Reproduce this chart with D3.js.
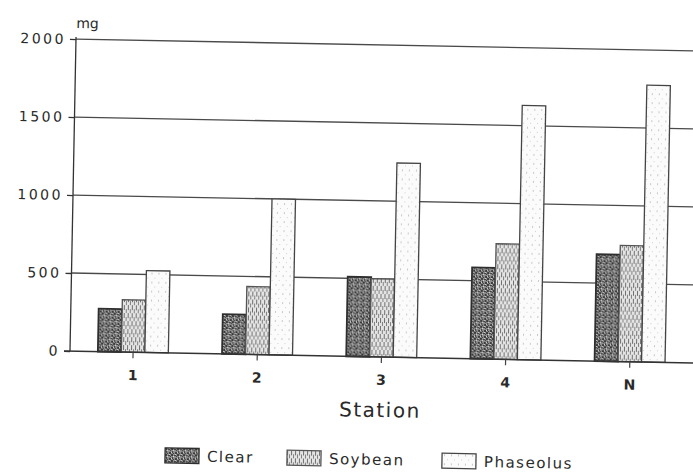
<!DOCTYPE html>
<html lang="en">
<head>
    <meta charset="UTF-8">
    <title>Station</title>
    <style>
        body,html{
            margin:0;
            padding:0;
            border:0;
            background:#fff;
        }
        text{
            font-family:"DejaVu Sans", Arial, sans-serif;
            fill:#2a2a2a;
        }
    </style>
</head>
<body>
    <svg id="svg" width="693" height="473"></svg>
    <script type="text/javascript" src="https://cdnjs.cloudflare.com/ajax/libs/d3/7.8.5/d3.min.js"></script>
    <script type="text/javascript">
        // values (mg)
        var stations = ["1", "2", "3", "4", "N"];
        var series = ["Clear", "Soybean", "Phaseolus"];
        var clear = [275, 255, 510, 585, 685];
        var soybean = [335, 435, 500, 740, 745];
        var phaseolus = [525, 1000, 1245, 1630, 1775];
        var yTicks = [0, 500, 1000, 1500, 2000];

        var values = {Clear: clear, Soybean: soybean, Phaseolus: phaseolus};

        var svg = d3.select("#svg");
        var defs = svg.append("defs");

        // speckled fills, roughly like the photocopy
        var pClear = defs.append("pattern").attr("id", "pClear")
            .attr("patternUnits", "userSpaceOnUse").attr("width", 6).attr("height", 6);
        pClear.append("rect").attr("width", 6).attr("height", 6).attr("fill", "#8e8e8e");
        [[0,0,2,2],[3,1,2,1],[1,3,1,2],[4,4,2,2],[2,5,1,1],[5,2,1,1]].forEach(function(r){
            pClear.append("rect").attr("x", r[0]).attr("y", r[1]).attr("width", r[2]).attr("height", r[3]).attr("fill", "#3a3a3a");
        });
        [[2,2,1,1],[0,4,1,1],[4,0,1,1]].forEach(function(r){
            pClear.append("rect").attr("x", r[0]).attr("y", r[1]).attr("width", r[2]).attr("height", r[3]).attr("fill", "#dcdcdc");
        });

        var pSoy = defs.append("pattern").attr("id", "pSoy")
            .attr("patternUnits", "userSpaceOnUse").attr("width", 4).attr("height", 8);
        pSoy.append("rect").attr("width", 4).attr("height", 8).attr("fill", "#e4e4e4");
        pSoy.append("rect").attr("x", 0).attr("y", 0).attr("width", 1).attr("height", 5).attr("fill", "#6e6e6e");
        pSoy.append("rect").attr("x", 2).attr("y", 4).attr("width", 1).attr("height", 4).attr("fill", "#808080");

        var pPha = defs.append("pattern").attr("id", "pPha")
            .attr("patternUnits", "userSpaceOnUse").attr("width", 7).attr("height", 9);
        pPha.append("rect").attr("width", 7).attr("height", 9).attr("fill", "#fbfbfb");
        pPha.append("rect").attr("x", 2).attr("y", 1).attr("width", 1).attr("height", 2).attr("fill", "#c8c8c8");
        pPha.append("rect").attr("x", 5).attr("y", 6).attr("width", 1).attr("height", 1).attr("fill", "#d0d0d0");

        var fills = {Clear: "url(#pClear)", Soybean: "url(#pSoy)", Phaseolus: "url(#pPha)"};
        var strokes = {Clear: "#2e2e2e", Soybean: "#555", Phaseolus: "#444"};

        // the scan is tilted a little clockwise
        var g = svg.append("g").attr("transform", "rotate(1.1,70,351)");

        var x = d3.scaleBand().domain(stations).range([71, 692]);
        var barW = 23.5;
        var x1 = d3.scaleBand().domain(series)
            .range([x.bandwidth() / 2 - 1.5 * barW, x.bandwidth() / 2 + 1.5 * barW]);
        var y = d3.scaleLinear().domain([0, 2000]).range([351, 39]);

        // gridlines
        g.append("g").selectAll("line").data(yTicks.slice(1)).enter().append("line")
            .attr("x1", 70).attr("x2", 710)
            .attr("y1", function(d){ return y(d); })
            .attr("y2", function(d){ return y(d); })
            .attr("stroke", "#4a4a4a").attr("stroke-width", 1.3);

        // bars
        var groups = g.append("g").selectAll("g").data(stations).enter().append("g")
            .attr("transform", function(d){ return "translate(" + x(d) + ",0)"; });
        groups.selectAll("rect").data(function(d, i){
                return series.map(function(s){ return {s: s, v: values[s][i]}; });
            }).enter().append("rect")
            .attr("x", function(d){ return x1(d.s); })
            .attr("width", x1.bandwidth())
            .attr("y", function(d){ return y(d.v); })
            .attr("height", function(d){ return y(0) - y(d.v); })
            .attr("fill", function(d){ return fills[d.s]; })
            .attr("stroke", function(d){ return strokes[d.s]; })
            .attr("stroke-width", function(d){ return d.s == "Clear" ? 1.8 : 1.3; });

        // y axis
        var yAxis = g.append("g").attr("transform", "translate(70,0)")
            .call(d3.axisLeft(y).tickValues(yTicks).tickFormat(d3.format("d")).tickSize(6).tickPadding(4));
        yAxis.select(".domain").attr("stroke", "#333").attr("stroke-width", 1.3)
            .attr("d", "M0," + y(0) + "V" + (y(2000) - 2));
        yAxis.selectAll(".tick line").attr("stroke", "#333").attr("stroke-width", 1.3);
        yAxis.selectAll(".tick text").style("font-size", "14px").style("letter-spacing", "2.5px")
            .attr("fill", "#2a2a2a");

        // baseline + x axis
        g.append("line").attr("x1", 64).attr("x2", 710).attr("y1", y(0)).attr("y2", y(0))
            .attr("stroke", "#333").attr("stroke-width", 1.5);
        var xAxis = g.append("g").attr("transform", "translate(0," + y(0) + ")")
            .call(d3.axisBottom(x).tickSize(6).tickPadding(12));
        xAxis.select(".domain").remove();
        xAxis.selectAll(".tick line").attr("stroke", "#444").attr("stroke-width", 1.2);
        xAxis.selectAll(".tick text").style("font-size", "14px").style("font-weight", "bold")
            .attr("fill", "#2a2a2a");

        g.append("text").attr("x", 70).attr("y", 28).style("font-size", "14px").text("mg");

        g.append("text").attr("x", 381).attr("y", 411).attr("text-anchor", "middle")
            .style("font-size", "20px").style("letter-spacing", "1.5px").text("Station");

        // legend
        var legX = [167, 289, 444];
        var leg = g.append("g").selectAll("g").data(series).enter().append("g")
            .attr("transform", function(d, i){ return "translate(" + legX[i] + ",446)"; });
        leg.append("rect").attr("width", 34).attr("height", 15)
            .attr("fill", function(d){ return fills[d]; })
            .attr("stroke", function(d){ return strokes[d]; }).attr("stroke-width", 1.3);
        leg.append("text").attr("x", 42).attr("y", 13)
            .style("font-size", "15px").style("letter-spacing", "1.5px")
            .text(function(d){ return d; });
    </script>
</body>
</html>
